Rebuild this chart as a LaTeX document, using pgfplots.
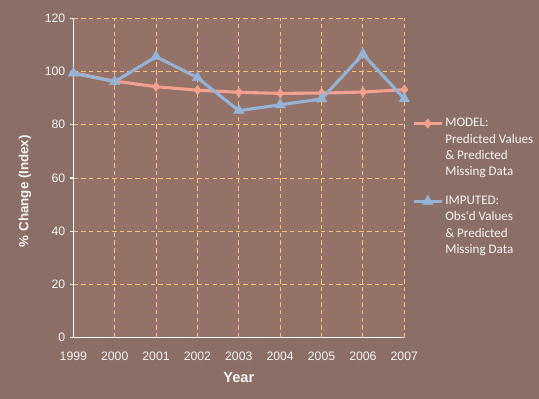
\documentclass[border=0pt]{standalone}
\usepackage{pgfplots}
\pgfplotsset{compat=1.18}
\usepackage{fontspec}
\setmainfont{Liberation Sans}
\newfontfamily\calibri{Carlito}
\definecolor{outerbg}{RGB}{139,111,102}
\definecolor{plotbg}{RGB}{148,114,104}
\definecolor{gridc}{RGB}{246,192,125}
\definecolor{modelc}{RGB}{244,160,142}
\definecolor{impc}{RGB}{149,179,215}
\definecolor{txtc}{RGB}{245,245,245}
\pgfplotstableread{
year model imputed
1999 99.5 99.4
2000 96.4 96.2
2001 94.3 105.6
2002 93.0 97.7
2003 92.2 85.3
2004 91.8 87.5
2005 91.9 89.7
2006 92.3 106.5
2007 93.2 89.8
}\datatable
\begin{document}
\begin{tikzpicture}
\fill[outerbg] (0,0) rectangle (404.25pt,299.25pt);
\begin{axis}[
  at={(55pt,46pt)}, anchor=south west,
  scale only axis, width=248.25pt, height=239.5pt,
  xmin=1999, xmax=2007, ymin=0, ymax=120,
  xtick={1999,...,2007}, ytick={0,20,...,120},
  xticklabel style={/pgf/number format/1000 sep=, yshift=-5pt},
  /pgf/number format/assume math mode=true,
  ticklabel style={font=\fontsize{9.2}{10}\selectfont, text=txtc},
  axis x line*=bottom, axis y line*=left,
  axis line style={white, line width=0.8pt, -},
  tick align=outside, major tick length=2.5pt,
  ytick style={white, line width=0.8pt},
  xtick style={draw=none},
  grid=major,
  major grid style={gridc, dash pattern=on 3.4pt off 2.4pt, line width=0.7pt},
  axis background/.style={fill=plotbg},
  xlabel={Year}, ylabel={\% Change (Index)},
  xlabel style={at={(axis description cs:0.5,-0.125)}, anchor=center, font=\bfseries\fontsize{11}{12}\selectfont, text=txtc},
  ylabel style={at={(axis description cs:-0.146,0.459)}, anchor=center, font=\bfseries\fontsize{10}{12}\selectfont, text=txtc},
  legend style={at={(axis description cs:1.0232,0.690)}, anchor=north west,
    draw=none, fill=none, inner sep=0pt, row sep=3.15pt, column sep=0pt,
    font=\calibri\fontsize{9.8}{11}\selectfont, text=txtc,
    nodes={text height=7pt, text depth=2pt, inner ysep=0pt, inner xsep=1.5pt}},
  legend cell align=left,
  legend image code/.code={\draw[mark repeat=2, mark phase=2, #1] plot coordinates {(0pt,0pt) (10.5pt,0pt) (21pt,0pt)};},
  clip=false,
]
\addplot[modelc, line width=2.3pt, mark=diamond*, mark size=3.6pt, mark options={fill=modelc, draw=modelc, line width=0.3pt}] table[x=year, y=model] {\datatable};
\addlegendentry{MODEL:}
\addlegendimage{empty legend}\addlegendentry{Predicted Values}
\addlegendimage{empty legend}\addlegendentry{\& Predicted}
\addlegendimage{empty legend}\addlegendentry[text depth=11.6pt]{Missing Data}
\addplot[impc, line width=2.3pt, mark=triangle*, mark size=4.6pt, mark options={fill=impc, draw=impc, line width=0.3pt}] table[x=year, y=imputed] {\datatable};
\addlegendentry{IMPUTED:}
\addlegendimage{empty legend}\addlegendentry{Obs'd Values}
\addlegendimage{empty legend}\addlegendentry{\& Predicted}
\addlegendimage{empty legend}\addlegendentry{Missing Data}
\end{axis}
\pgfresetboundingbox
\path[use as bounding box] (0,0) rectangle (404.25pt,299.25pt);
\end{tikzpicture}
\end{document}
